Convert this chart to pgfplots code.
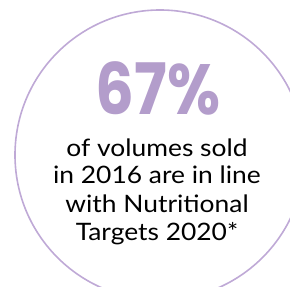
\documentclass[border=0pt]{standalone}
\usepackage{pgfplots}
\pgfplotsset{compat=1.18}
\usepackage{fontspec}
\setmainfont{Lato}
\newfontfamily\bigfont{Poppins}
\definecolor{circ}{HTML}{BFA9D6}
\definecolor{pct}{HTML}{B39DCB}
\newcommand\wl[1]{\scalebox{1.1}[1]{#1}}
\begin{document}
\begin{tikzpicture}
\begin{axis}[
  scale only axis, width=290pt, height=287pt,
  xmin=0, xmax=290, ymin=0, ymax=287,
  hide axis, clip=true]
\draw[circ, line width=1.6pt] (axis cs:160,132) circle [radius=145pt];
\node[anchor=base, text=pct, inner sep=0pt, font=\bigfont\bfseries\fontsize{71}{71}\selectfont] at (axis cs:158,172) {\scalebox{0.86}[1]{67\%}};
\node[anchor=base, inner sep=0pt, font=\fontsize{24}{24}\selectfont] at (axis cs:157,130) {\wl{of volumes sold}};
\node[anchor=base, inner sep=0pt, font=\fontsize{24}{24}\selectfont] at (axis cs:157,103) {\wl{in 2016 are in line}};
\node[anchor=base, inner sep=0pt, font=\fontsize{24}{24}\selectfont] at (axis cs:157,74) {\wl{with Nutritional}};
\node[anchor=base, inner sep=0pt, font=\fontsize{24}{24}\selectfont] at (axis cs:157,46) {\wl{Targets 2020*}};
\end{axis}
\pgfresetboundingbox
\path (current axis.south west) rectangle (current axis.north east);
\end{tikzpicture}
\end{document}
